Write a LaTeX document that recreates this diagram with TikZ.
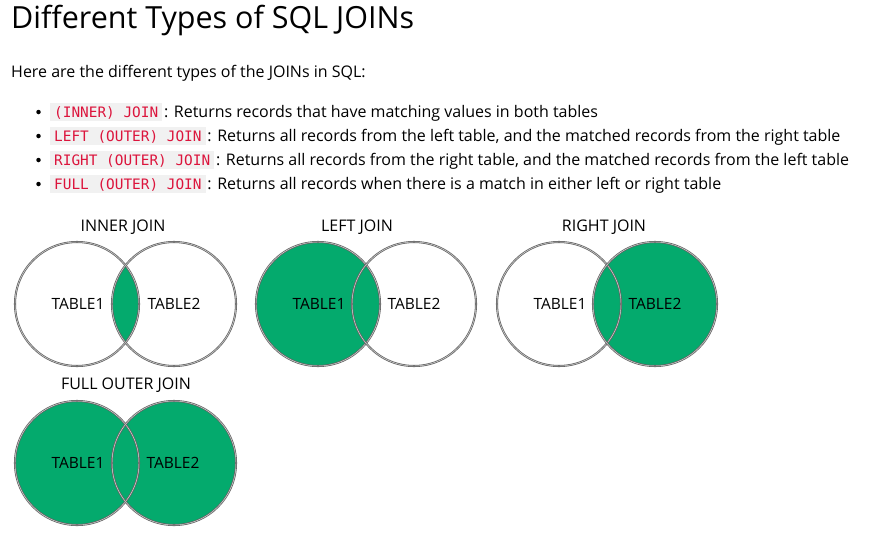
\documentclass[tikz,border=0pt]{standalone}
\usepackage{fontspec}
\setmainfont{Open Sans}
\newfontfamily\codefont{DejaVu Sans Mono}
\definecolor{joingreen}{RGB}{4,170,109}
\definecolor{ringgray}{RGB}{100,100,100}
\definecolor{codered}{RGB}{220,20,60}
\definecolor{codebg}{RGB}{241,241,241}
\begin{document}
\begin{tikzpicture}[x=1pt,y=-1pt,
  titletext/.style={anchor=base west,inner sep=0pt,font=\fontsize{30.5}{36}\selectfont},
  bodytext/.style={anchor=base west,inner sep=0pt,font=\fontsize{16}{19}\selectfont},
  codebox/.style={anchor=base west,fill=codebg,text=codered,inner xsep=4pt,inner ysep=4pt,
     text height=10pt,text depth=0pt,font=\codefont\fontsize{14.4}{16}\selectfont},
  desc/.style={anchor=base west,inner xsep=1.5pt,inner ysep=0pt,font=\fontsize{16}{19}\selectfont},
  bulletdot/.style={circle,fill=black,inner sep=0pt,minimum size=4.5pt},
  venntitle/.style={font=\fontsize{16}{19}\selectfont,inner sep=0pt},
  tablelabel/.style={font=\fontsize{15.5}{18}\selectfont,inner sep=0pt},
  ring/.style={draw=ringgray,line width=0.8pt,double=white!80!ringgray,double distance=0.45pt}
]
\useasboundingbox[fill=white] (0,0) rectangle (880,538);

% heading and intro
\node[titletext] (title) at (11,28) {Different Types of SQL JOINs};
\node[bodytext] (intro) at (11,77) {Here are the different types of the JOINs in SQL:};

% bullet list
\node[bulletdot] (b1) at (38.5,112) {};
\node[codebox] (c1) at (50,117) {(INNER) JOIN};
\node[desc] (d1) at (c1.base east) {: Returns records that have matching values in both tables};

\node[bulletdot] (b2) at (38.5,136) {};
\node[codebox] (c2) at (50,141) {LEFT (OUTER) JOIN};
\node[desc] (d2) at (c2.base east) {: Returns all records from the left table, and the matched records from the right table};

\node[bulletdot] (b3) at (38.5,160) {};
\node[codebox] (c3) at (50,165) {RIGHT (OUTER) JOIN};
\node[desc] (d3) at (c3.base east) {: Returns all records from the right table, and the matched records from the left table};

\node[bulletdot] (b4) at (38.5,184) {};
\node[codebox] (c4) at (50,189) {FULL (OUTER) JOIN};
\node[desc] (d4) at (c4.base east) {: Returns all records when there is a match in either left or right table};

% INNER JOIN
\begin{scope}
  \clip (77,304) circle[radius=62pt];
  \fill[joingreen] (174,304) circle[radius=62pt];
\end{scope}
\draw[ring] (77,304) circle[radius=62pt];
\draw[ring] (174,304) circle[radius=62pt];
\node[venntitle] (tinner) at (123,227) {INNER JOIN};
\node[tablelabel] (i1) at (78,304) {TABLE1};
\node[tablelabel] (i2) at (174,304) {TABLE2};

% LEFT JOIN
\fill[joingreen] (318,304) circle[radius=62pt];
\draw[ring] (318,304) circle[radius=62pt];
\draw[ring] (414,304) circle[radius=62pt];
\node[venntitle] (tleft) at (357,227) {LEFT JOIN};
\node[tablelabel] (l1) at (319,304) {TABLE1};
\node[tablelabel] (l2) at (414,304) {TABLE2};

% RIGHT JOIN
\fill[joingreen] (655,304) circle[radius=62pt];
\draw[ring] (559,304) circle[radius=62pt];
\draw[ring] (655,304) circle[radius=62pt];
\node[venntitle] (tright) at (604,227) {RIGHT JOIN};
\node[tablelabel] (r1) at (560,304) {TABLE1};
\node[tablelabel] (r2) at (655,304) {TABLE2};

% FULL OUTER JOIN
\fill[joingreen] (77,463) circle[radius=62pt];
\fill[joingreen] (174,463) circle[radius=62pt];
\draw[ring] (77,463) circle[radius=62pt];
\draw[ring] (174,463) circle[radius=62pt];
\node[venntitle] (tfull) at (126,385) {FULL OUTER JOIN};
\node[tablelabel] (f1) at (78,463) {TABLE1};
\node[tablelabel] (f2) at (173,463) {TABLE2};
\end{tikzpicture}
\end{document}
